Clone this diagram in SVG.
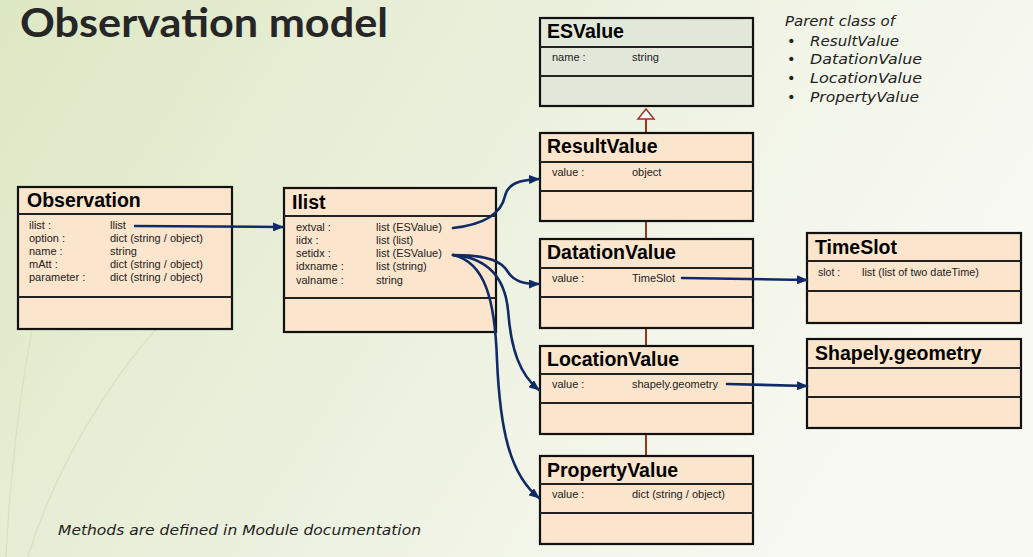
<svg xmlns="http://www.w3.org/2000/svg" width="1033" height="557" viewBox="0 0 1033 557">
<defs>
<linearGradient id="bg" x1="0" y1="0" x2="1" y2="0.35">
<stop offset="0" stop-color="#dde8c4"/>
<stop offset="0.6" stop-color="#eef2e2"/>
<stop offset="1" stop-color="#f8f9f3"/>
</linearGradient>
<marker id="ah" markerUnits="userSpaceOnUse" markerWidth="11" markerHeight="9" refX="10" refY="4.5" orient="auto">
<path d="M0,0 L11,4.5 L0,9 z" fill="#0f2a66"/>
</marker>
<style>
.box{fill:#fbe5cc;stroke:#111;stroke-width:2.2}
.esbox{fill:#e2e8d9;stroke:#111;stroke-width:2.2}
.div{stroke:#222;stroke-width:2}
.ttl{font-family:"Liberation Sans",Arial,sans-serif;font-weight:bold;font-size:19.5px;fill:#000}
.fld{font-family:"Liberation Sans",Arial,sans-serif;font-size:11px;fill:#222}
.fs{font-family:"Liberation Sans",Arial,sans-serif;font-size:10.5px;fill:#222}
.con{fill:none;stroke:#0f2a66;stroke-width:2.6;stroke-linecap:round}
.note{font-family:"DejaVu Sans",sans-serif;font-style:italic;font-size:14.5px;fill:#222}
</style>
</defs>
<rect width="1033" height="557" fill="url(#bg)"/>
<g stroke="#cfdcb0" stroke-width="1.2" fill="none" opacity="0.6">
<path d="M6,557 C10,480 18,400 34,320"/>
<path d="M28,557 C60,450 140,330 200,290"/>
</g>
<text x="20" y="37" font-family="Lato,'DejaVu Sans',sans-serif" font-weight="bold" font-size="40" fill="#262626" textLength="368" lengthAdjust="spacingAndGlyphs">Observation model</text>
<g id="note-parent">
<text class="note" x="785" y="26" textLength="110" lengthAdjust="spacingAndGlyphs">Parent class of</text>
<text class="note" x="787" y="46" font-style="normal">•</text>
<text class="note" x="810" y="46" textLength="89" lengthAdjust="spacingAndGlyphs">ResultValue</text>
<text class="note" x="787" y="64" font-style="normal">•</text>
<text class="note" x="810" y="64" textLength="112" lengthAdjust="spacingAndGlyphs">DatationValue</text>
<text class="note" x="787" y="83" font-style="normal">•</text>
<text class="note" x="810" y="83" textLength="112" lengthAdjust="spacingAndGlyphs">LocationValue</text>
<text class="note" x="787" y="102" font-style="normal">•</text>
<text class="note" x="810" y="102" textLength="109" lengthAdjust="spacingAndGlyphs">PropertyValue</text>
</g>
<text class="note" x="58" y="535" textLength="363" lengthAdjust="spacingAndGlyphs">Methods are defined in Module documentation</text>
<g id="inheritance">
<line x1="646" y1="119" x2="646" y2="456" stroke="#a3321f" stroke-width="2"/>
<polygon points="646,109 638,119 654,119" fill="#ffffff" stroke="#a3321f" stroke-width="1.5"/>
</g>
<g id="Observation">
<rect class="box" x="18" y="187" width="214" height="142"/>
<line class="div" x1="18" y1="214" x2="232" y2="214"/>
<line class="div" x1="18" y1="297" x2="232" y2="297"/>
<text class="ttl" x="27" y="207">Observation</text>
<text class="fld" x="29" y="229">ilist :</text><text class="fld" x="110" y="229">llist</text>
<text class="fld" x="29" y="242">option :</text><text class="fld" x="110" y="242">dict (string / object)</text>
<text class="fld" x="29" y="255">name :</text><text class="fld" x="110" y="255">string</text>
<text class="fld" x="29" y="268">mAtt :</text><text class="fld" x="110" y="268">dict (string / object)</text>
<text class="fld" x="29" y="281">parameter :</text><text class="fld" x="110" y="281">dict (string / object)</text>
</g>
<g id="Ilist">
<rect class="box" x="284" y="188" width="212" height="144"/>
<line class="div" x1="284" y1="216" x2="496" y2="216"/>
<line class="div" x1="284" y1="298" x2="496" y2="298"/>
<text class="ttl" x="292" y="209">Ilist</text>
<text class="fld" x="296" y="231">extval :</text><text class="fld" x="376" y="231">list (ESValue)</text>
<text class="fld" x="296" y="244">iidx :</text><text class="fld" x="376" y="244">list (list)</text>
<text class="fld" x="296" y="257">setidx :</text><text class="fld" x="376" y="257">list  (ESValue)</text>
<text class="fld" x="296" y="270">idxname :</text><text class="fld" x="376" y="270">list (string)</text>
<text class="fld" x="296" y="284">valname :</text><text class="fld" x="376" y="284">string</text>
</g>
<g id="ESValue">
<rect class="esbox" x="540" y="18" width="213" height="88"/>
<line class="div" x1="540" y1="47" x2="753" y2="47"/>
<line class="div" x1="540" y1="76" x2="753" y2="76"/>
<text class="ttl" x="547" y="38">ESValue</text>
<text class="fld" x="552" y="61">name :</text><text class="fld" x="632" y="61">string</text>
</g>
<g id="ResultValue">
<rect class="box" x="540" y="133" width="213" height="88"/>
<line class="div" x1="540" y1="162" x2="753" y2="162"/>
<line class="div" x1="540" y1="191" x2="753" y2="191"/>
<text class="ttl" x="547" y="153">ResultValue</text>
<text class="fld" x="552" y="176">value :</text><text class="fld" x="632" y="176">object</text>
</g>
<g id="DatationValue">
<rect class="box" x="540" y="239" width="213" height="89"/>
<line class="div" x1="540" y1="268" x2="753" y2="268"/>
<line class="div" x1="540" y1="297" x2="753" y2="297"/>
<text class="ttl" x="547" y="259">DatationValue</text>
<text class="fld" x="552" y="282">value :</text><text class="fld" x="632" y="282">TimeSlot</text>
</g>
<g id="LocationValue">
<rect class="box" x="540" y="346" width="213" height="88"/>
<line class="div" x1="540" y1="374" x2="753" y2="374"/>
<line class="div" x1="540" y1="403" x2="753" y2="403"/>
<text class="ttl" x="547" y="366">LocationValue</text>
<text class="fld" x="552" y="388">value :</text><text class="fld" x="632" y="388">shapely.geometry</text>
</g>
<g id="PropertyValue">
<rect class="box" x="540" y="456" width="213" height="88"/>
<line class="div" x1="540" y1="484" x2="753" y2="484"/>
<line class="div" x1="540" y1="513" x2="753" y2="513"/>
<text class="ttl" x="547" y="477">PropertyValue</text>
<text class="fld" x="552" y="498">value :</text><text class="fld" x="632" y="498">dict (string / object)</text>
</g>
<g id="TimeSlot">
<rect class="box" x="807" y="233" width="214" height="90"/>
<line class="div" x1="807" y1="261" x2="1021" y2="261"/>
<line class="div" x1="807" y1="291" x2="1021" y2="291"/>
<text class="ttl" x="815" y="254">TimeSlot</text>
<text class="fs" x="818" y="276">slot :</text><text class="fs" x="862" y="276" textLength="117" lengthAdjust="spacingAndGlyphs">list  (list of two dateTime)</text>
</g>
<g id="ShapelyGeometry">
<rect class="box" x="807" y="339" width="214" height="89"/>
<line class="div" x1="807" y1="368" x2="1021" y2="368"/>
<line class="div" x1="807" y1="397" x2="1021" y2="397"/>
<text class="ttl" x="815" y="360">Shapely.geometry</text>
</g>
<g id="connectors">
<path class="con" d="M135,226 L283,227" marker-end="url(#ah)"/>
<path class="con" d="M453,228 C490,224 502,210 505,196 C508,183 520,180 539,179" marker-end="url(#ah)"/>
<path class="con" d="M453,255 C490,255 502,262 508,272 C514,282 525,284 539,284" marker-end="url(#ah)"/>
<path class="con" d="M453,255 C490,258 505,280 508,310 C511,350 520,375 539,390" marker-end="url(#ah)"/>
<path class="con" d="M453,255 C485,262 495,300 497,360 C500,430 510,475 539,498" marker-end="url(#ah)"/>
<path class="con" d="M682,278 L807,280" marker-end="url(#ah)"/>
<path class="con" d="M727,384 L807,386" marker-end="url(#ah)"/>
</g>
</svg>
